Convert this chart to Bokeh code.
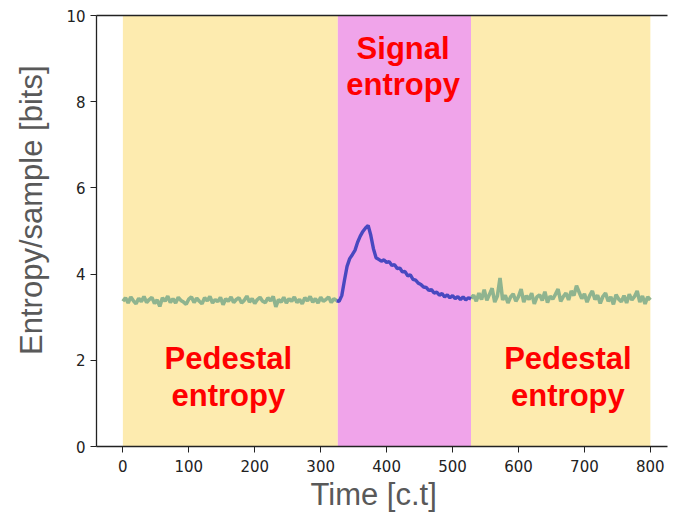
from bokeh.plotting import figure
from bokeh.models import LinearAxis, BoxAnnotation, ColumnDataSource, Range1d, FixedTicker, Title
from bokeh.core.properties import value
from bokeh.embed import file_html
from bokeh.resources import INLINE

# ---- data ----
step = 4
ped1_start = 0
ped1_vals = [3.37,3.45,3.33,3.47,3.38,3.31,3.44,3.36,3.48,3.34,
             3.41,3.46,3.32,3.40,3.25,3.45,3.37,3.49,3.34,3.43,
             3.33,3.46,3.39,3.35,3.30,3.42,3.47,3.34,3.44,3.37,
             3.31,3.45,3.38,3.48,3.33,3.41,3.36,3.46,3.29,3.43,
             3.37,3.47,3.34,3.41,3.45,3.33,3.39,3.49,3.35,3.43,
             3.32,3.41,3.46,3.37,3.34,3.45,3.38,3.48,3.24,3.41,
             3.35,3.46,3.33,3.43,3.37,3.47,3.34,3.41,3.31,3.45,
             3.38,3.48,3.35,3.43,3.33,3.46,3.37,3.41,3.47,3.34,
             3.43,3.39]

sig_start = 324
sig_vals = [3.38,3.37,3.50,3.85,4.18,4.36,4.45,4.55,4.74,4.88,
            4.99,5.07,5.13,4.90,4.59,4.38,4.34,4.30,4.33,4.27,
            4.29,4.20,4.22,4.13,4.14,4.05,4.06,3.96,3.98,3.88,
            3.86,3.79,3.76,3.70,3.69,3.62,3.64,3.56,3.58,3.51,
            3.55,3.47,3.52,3.45,3.50,3.43,3.48,3.41,3.47,3.40,
            3.45,3.42]

ped2_start = 528
ped2_vals = [3.44,3.51,3.37,3.56,3.41,3.64,3.39,3.53,3.67,3.35,
             3.49,3.91,3.40,3.51,3.33,3.47,3.54,3.37,3.48,3.65,
             3.35,3.50,3.41,3.56,3.31,3.47,3.52,3.39,3.59,3.34,
             3.49,3.42,3.53,3.65,3.37,3.48,3.56,3.40,3.61,3.50,
             3.73,3.58,3.43,3.54,3.35,3.50,3.61,3.41,3.51,3.32,
             3.48,3.56,3.37,3.47,3.30,3.52,3.42,3.36,3.50,3.33,
             3.53,3.40,3.48,3.61,3.35,3.49,3.31,3.47,3.40]

band_edges = [0, 326, 528, 800]
band_colors = ["#fdebaf", "#f0a4ea", "#fdebaf"]

label_x = [160, 160, 425, 425, 675, 675]
label_y = [2.05, 1.18, 9.24, 8.39, 2.05, 1.18]
label_text = ["Pedestal", "entropy", "Signal", "entropy", "Pedestal", "entropy"]

x_ticks = [0, 100, 200, 300, 400, 500, 600, 700, 800]
y_ticks = [0, 2, 4, 6, 8, 10]

# ---- figure ----
p = figure(width=674, height=514, output_backend="svg", toolbar_location=None,
           x_range=Range1d(-40, 826), y_range=Range1d(0, 10),
           min_border_left=96, min_border_right=7, min_border_top=15, min_border_bottom=68)
p.grid.visible = False
p.outline_line_color = None
p.background_fill_color = "white"
p.border_fill_color = "white"

for i, c in enumerate(band_colors):
    p.add_layout(BoxAnnotation(left=band_edges[i], right=band_edges[i + 1],
                               fill_color=c, fill_alpha=1.0, line_color=None,
                               level="underlay"))

def times(start, vals):
    return [start + step * i for i in range(len(vals))]

p.line(times(ped1_start, ped1_vals), ped1_vals, line_color="#8fb48f", line_width=3.6)
p.line(times(ped2_start, ped2_vals), ped2_vals, line_color="#8fb48f", line_width=3.6)
p.line(times(sig_start, sig_vals), sig_vals, line_color="#4848c0", line_width=3.4)

src = ColumnDataSource(dict(x=label_x, y=label_y, text=label_text))
p.text(x="x", y="y", text="text", source=src,
       text_font=value("Liberation Sans"), text_font_style="bold",
       text_font_size="31px", text_color="#ff0000",
       text_align="center", text_baseline="alphabetic")

axis_col = "#222222"
for ax in (p.xaxis[0], p.yaxis[0]):
    ax.axis_line_color = axis_col
    ax.axis_line_width = 1.3
    ax.major_tick_line_color = axis_col
    ax.major_tick_out = 6
    ax.major_tick_in = 0
    ax.minor_tick_line_color = None
    ax.major_label_text_font = "DejaVu Sans"
    ax.major_label_text_font_size = "15px"
    ax.major_label_text_color = "#222222"

p.xaxis[0].ticker = FixedTicker(ticks=x_ticks)
p.yaxis[0].ticker = FixedTicker(ticks=y_ticks)
p.xaxis[0].major_label_standoff = 7
p.yaxis[0].major_label_standoff = 5

# axis titles as side titles, offset along the axis like the reference
p.add_layout(Title(text="Time [c.t]", align="left", offset=214, standoff=1,
                   text_font="Liberation Sans", text_font_size="31px",
                   text_font_style="normal", text_color="#595959"), "below")
p.add_layout(Title(text="Entropy/sample [bits]", align="right", offset=50, standoff=26,
                   vertical_align="top",
                   text_font="Liberation Sans", text_font_size="31px",
                   text_font_style="normal", text_color="#595959"), "left")

top = LinearAxis(ticker=FixedTicker(ticks=[]), major_label_text_font_size="0px",
                 axis_line_color=axis_col, axis_line_width=1.3,
                 major_tick_line_color=None, minor_tick_line_color=None)
p.add_layout(top, "above")

open("out.html", "w").write(file_html(p, INLINE))
